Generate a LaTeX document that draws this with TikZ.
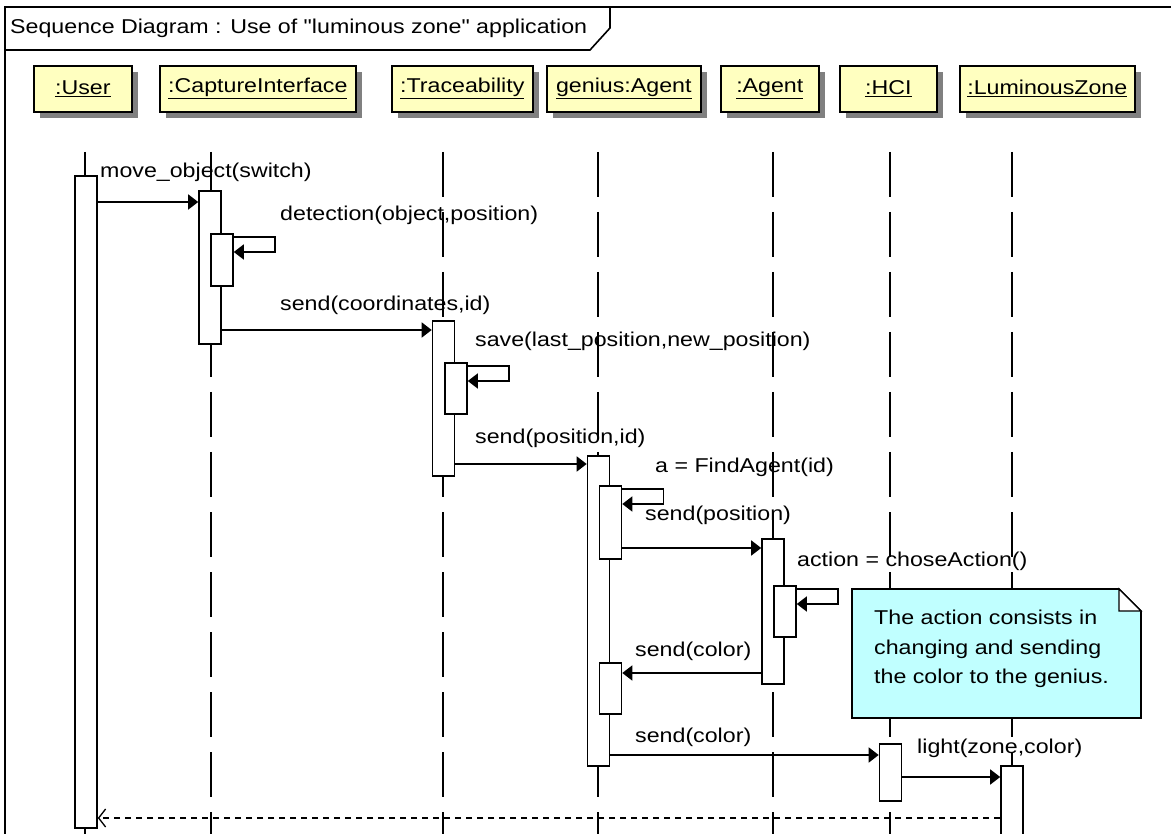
\documentclass[tikz,border=0pt]{standalone}
\usepackage{fontspec}
\setmainfont{Liberation Sans}[FakeStretch=1.16, Ligatures=TeXOff]
\usetikzlibrary{arrows.meta,shadows}

\definecolor{objyellow}{HTML}{FFFFC0}
\definecolor{notecyan}{HTML}{C0FFFF}
\definecolor{shadowgray}{HTML}{808080}

\tikzset{
  obj/.style={draw, fill=objyellow, line width=1.6pt, minimum height=46, inner sep=0,
    anchor=north west, drop shadow={shadow xshift=6pt, shadow yshift=-6pt, fill=shadowgray, opacity=1}},
  act/.style={draw, fill=white, line width=1.6pt, minimum width=22, inner sep=0, anchor=north},
  lifeline/.style={line width=1.6pt, dash pattern=on 45pt off 15pt},
  msg/.style={line width=1.6pt, -{Triangle[length=10pt,width=15pt]}},
  ret/.style={line width=1.3pt, dash pattern=on 6pt off 5pt, -{Straight Barb[length=7pt,width=18pt]}},
  lbl/.style={anchor=west, inner sep=0},
}

\begin{document}
\begin{tikzpicture}[x=1pt, y=-1pt, font=\fontsize{20}{29.5}\selectfont]
        \useasboundingbox (0,0) rectangle (1171,834);
        \clip (0,0) rectangle (1171,834);

        % Frame and title tab
        \draw[line width=1.6pt] (5,850) -- (5,7) -- (1180,7);
        \draw[line width=1.6pt] (5,50) -- (590,50) -- (610,28) -- (610,7);
        \node[lbl] (title) at (10,28) {Sequence Diagram : Use of "luminous zone" application};

        % Objects
        \node[obj, minimum width=98] (user) at (33,65) {\underline{:User}};
        \node[obj, minimum width=196] (capture) at (159,65) {\underline{:CaptureInterface}};
        \node[obj, minimum width=141] (trace) at (391,65) {\underline{:Traceability}};
        \node[obj, minimum width=154] (genius) at (546,65) {\underline{genius:Agent}};
        \node[obj, minimum width=98] (agent) at (720,65) {\underline{:Agent}};
        \node[obj, minimum width=97] (hci) at (839,65) {\underline{:HCI}};
        \node[obj, minimum width=175] (zone) at (959,65) {\underline{:LuminousZone}};

        % Lifelines
        \foreach \n/\x in {User/85, Capture/211, Trace/443, Genius/598, Agent/773, Hci/890, Zone/1012}
            \coordinate (ll\n) at (\x,152);
        \foreach \n in {User, Capture, Trace, Genius, Agent, Hci, Zone}
            \draw[lifeline] (ll\n) -- ++(0,700);

        % Activations
        \node[act, minimum height=652] (actUser) at (86,175) {};
        \node[act, minimum height=153] (actCapture) at (210,190) {};
        \node[act, minimum height=52] (actCaptureSelf) at (222,233) {};
        \node[act, minimum height=155] (actTrace) at (443.5,320) {};
        \node[act, minimum height=51] (actTraceSelf) at (456,362) {};
        \node[act, minimum height=310] (actGenius) at (598.5,455) {};
        \node[act, minimum height=73] (actGeniusSelf) at (610.5,485) {};
        \node[act, minimum height=51] (actGeniusBack) at (610.5,662) {};
        \node[act, minimum height=145] (actAgent) at (773,538) {};
        \node[act, minimum height=51] (actAgentSelf) at (785,585) {};
        \node[act, minimum height=57] (actHci) at (890.5,743) {};
        \node[act, minimum height=100] (actZone) at (1012,765) {};

        % Messages
        \coordinate (m1) at (0,202);
        \coordinate (m2) at (0,330);
        \coordinate (m3) at (0,464);
        \coordinate (m4) at (0,548);
        \coordinate (m5) at (0,673);
        \coordinate (m6) at (0,755);
        \coordinate (m7) at (0,777);
        \coordinate (m8) at (0,818);
        \draw[msg] (actUser.east |- m1) -- (actCapture.west |- m1);
        \draw[msg] (actCapture.east |- m2) -- (actTrace.west |- m2);
        \draw[msg] (actTrace.east |- m3) -- (actGenius.west |- m3);
        \draw[msg] (actGeniusSelf.east |- m4) -- (actAgent.west |- m4);
        \draw[msg] (actAgent.west |- m5) -- (actGeniusBack.east |- m5);
        \draw[msg] (actGenius.east |- m6) -- (actHci.west |- m6);
        \draw[msg] (actHci.east |- m7) -- (actZone.west |- m7);
        \draw[ret] (actZone.west |- m8) -- (actUser.east |- m8);

        % Self calls
        \foreach \a in {actCaptureSelf, actTraceSelf, actGeniusSelf, actAgentSelf}
            \draw[msg] ([yshift=-4pt]\a.north east) -- ++(41,0) -- ++(0,15) -- ++(-41,0);

        % Message labels
        \node[lbl] (l1) at (100,172) {move\_object(switch)};
        \node[lbl] (l2) at (280,215) {detection(object,position)};
        \node[lbl] (l3) at (280,305) {send(coordinates,id)};
        \node[lbl] (l4) at (475,341) {save(last\_position,new\_position)};
        \node[lbl] (l5) at (475,438) {send(position,id)};
        \node[lbl] (l6) at (655,467) {a = FindAgent(id)};
        \node[lbl] (l7) at (645,515) {send(position)};
        \node[lbl] (l8) at (797,561) {action = choseAction()};
        \node[lbl] (l9) at (635,651) {send(color)};
        \node[lbl] (l10) at (635,737) {send(color)};
        \node[lbl] (l11) at (917,748) {light(zone,color)};

        % Note
        \path (852,589) coordinate (noteNW) (1141,718) coordinate (noteSE);
        \draw[line width=1.6pt, fill=notecyan] (noteNW) -- ++(267,0) -- ++(22,22) |- (noteSE) -| cycle;
        \draw[line width=1.2pt, fill=white] ([xshift=267pt]noteNW) -- ++(0,22) -- ++(22,0) -- cycle;
        \node[anchor=north west, align=left, inner sep=0] (note) at (874,610)
            {The action consists in\\changing and sending\\the color to the genius.};

\end{tikzpicture}
\end{document}
